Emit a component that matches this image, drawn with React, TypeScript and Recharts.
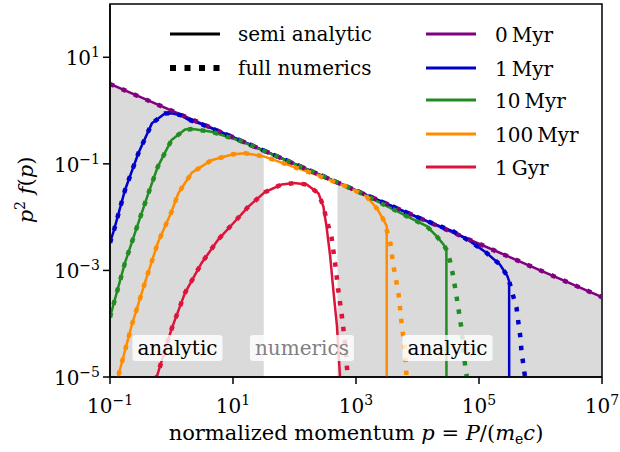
import React from 'react';
import {
  ComposedChart,
  Line,
  Area,
  XAxis,
  YAxis,
  ReferenceDot,
  ReferenceArea,
} from 'recharts';

const FONT = 'DejaVu Serif';
const FS = 20;
const SUP = 14;

// x: normalized momentum p, y: p^2 f(p)
const xTicks = [1e-1, 1e1, 1e3, 1e5, 1e7];
const yTicks = [1e-5, 1e-3, 1e-1, 1e1];

const semi0 = [[0.1, 3.16], [1e7, 3.16e-4]];

const semi1 = [
  [0.1, 3.3e-3], [0.117, 5.9e-3], [0.175, 0.032], [0.29, 0.16], [0.48, 0.575],
  [0.78, 0.885], [1.0, 0.89], [1.41, 0.82], [1.86, 0.68], [3.16, 0.55], [10, 0.316],
  [100, 0.1], [1000, 0.0316], [1.1e4, 9.5e-3], [3.8e4, 5.4e-3], [7.1e4, 3.55e-3],
  [1.32e5, 2.14e-3], [2.19e5, 1.29e-3], [2.88e5, 7.9e-4], [3.09e5, 6.3e-4], [3.1e5, 1e-6],
];
const tail1 = [
  [3.55e5, 3.5e-4], [4.07e5, 2.0e-4], [4.37e5, 1.05e-4], [4.68e5, 5.9e-5],
  [4.9e5, 3.1e-5], [5.25e5, 1.74e-5], [5.6e5, 1e-5], [6.3e5, 3e-6],
];

const semi10 = [
  [0.1, 1.32e-4], [0.175, 1.38e-3], [0.29, 7.9e-3], [0.42, 0.028], [0.6, 0.089],
  [1.0, 0.28], [1.66, 0.44], [2.24, 0.45], [4.47, 0.4], [12.6, 0.275], [100, 0.1],
  [1000, 0.0316], [5250, 0.012], [1.1e4, 7.8e-3], [1.41e4, 6.8e-3], [2.04e4, 4.4e-3],
  [2.63e4, 3.1e-3], [2.95e4, 2.45e-3], [2.96e4, 1e-6],
];
const tail10 = [
  [3.39e4, 1.48e-3], [3.8e4, 7.9e-4], [4.47e4, 2.5e-4], [5.25e4, 7.4e-5],
  [5.75e4, 2.2e-5], [6.3e4, 1.05e-5], [7.1e4, 3.2e-6],
];

const semi100 = [
  [0.126, 6.3e-6], [0.135, 1e-5], [0.224, 9.1e-5], [0.37, 5.9e-4], [0.6, 3.3e-3],
  [1.0, 0.0126], [1.29, 0.028], [2.14, 0.068], [4.47, 0.117], [10, 0.151], [15.8, 0.158],
  [31.6, 0.138], [70.8, 0.1], [229, 0.062], [794, 0.0355], [1480, 0.0245], [2190, 0.0145],
  [2750, 9.3e-3], [3160, 6.8e-3], [3165, 1e-6],
];
const tail100 = [
  [3550, 3.8e-3], [4070, 1.2e-3], [4900, 3.8e-4], [5500, 1.05e-4],
  [6300, 2.9e-5], [6600, 1.1e-5], [7240, 3.2e-6],
];

const semi1G = [
  [0.55, 5e-6], [0.575, 1e-5], [1.0, 7.9e-5], [1.66, 3.8e-4], [3.09, 1.38e-3],
  [5.75, 3.8e-3], [10, 7.6e-3], [17.8, 0.0158], [33.1, 0.0295], [61.7, 0.041],
  [100, 0.0437], [158, 0.041], [245, 0.028], [295, 0.0158], [331, 6.8e-3],
  [380, 1.86e-3], [427, 4.4e-4], [490, 9.1e-5], [550, 1e-5], [575, 4e-6],
];
const tail1G = [
  [331, 9e-3], [398, 4.4e-3], [457, 1.38e-3], [513, 4.4e-4], [589, 1.4e-4],
  [661, 4.5e-5], [724, 1.2e-5], [794, 4e-6],
];

// grey shading under the initial spectrum
const shadeLow = [[0.1, 3.16], [31.6, 0.178]];
const shadeHigh = [[500, 0.0447], [1e7, 3.16e-4]];

const regionLabels = [
  { text: 'analytic', p: 1.25, y: 3.5e-5, grey: false },
  { text: 'numerics', p: 132, y: 3.5e-5, grey: true },
  { text: 'analytic', p: 3.08e4, y: 3.5e-5, grey: false },
];

const pts = (a: number[][]) => a.map(([p, y]) => ({ p, y }));
const upTo = (a: number[][], p: number) => a.filter((d) => d[0] <= p);

const series = [
  { name: '0\u2009Myr', color: '#800080', semi: semi0, num: semi0 },
  { name: '1\u2009Myr', color: '#0000cd', semi: semi1, num: [...upTo(semi1, 3.09e5), ...tail1] },
  { name: '10\u2009Myr', color: '#228b22', semi: semi10, num: [...upTo(semi10, 2.95e4), ...tail10] },
  { name: '100\u2009Myr', color: '#ff8c00', semi: semi100, num: [...upTo(semi100, 2750), ...tail100] },
  { name: '1\u2009Gyr', color: '#dc143c', semi: semi1G, num: [...upTo(semi1G, 295), ...tail1G] },
];

const supText = (e: number) => (e < 0 ? '\u2212' + -e : String(e));

const XTick = (props: any) => {
  const { x, y, payload } = props;
  const e = Math.round(Math.log10(payload.value));
  return (
    <text x={x} y={y + 27} textAnchor="middle" fontFamily={FONT} fontSize={FS} fill="#000">
      10<tspan dy={-8} fontSize={SUP}>{supText(e)}</tspan>
    </text>
  );
};

const YTick = (props: any) => {
  const { x, y, payload } = props;
  const e = Math.round(Math.log10(payload.value));
  return (
    <text x={x - 1} y={y + 8} textAnchor="end" fontFamily={FONT} fontSize={FS} fill="#000">
      10<tspan dy={-8} fontSize={SUP}>{supText(e)}</tspan>
    </text>
  );
};

let ctx: CanvasRenderingContext2D | null = null;
const textWidth = (s: string) => {
  if (!ctx) ctx = document.createElement('canvas').getContext('2d');
  if (!ctx) return s.length * 11;
  ctx.font = `${FS}px "${FONT}"`;
  return ctx.measureText(s).width;
};

const RegionLabel = (props: any) => {
  const { cx, cy, text, grey } = props;
  const w = textWidth(text) + 10;
  const h = 26;
  return (
    <g>
      <rect x={cx - w / 2} y={cy - h / 2} width={w} height={h} rx={3} fill="#fff" fillOpacity={0.8} />
      <text x={cx} y={cy + 7} textAnchor="middle" fontFamily={FONT} fontSize={FS} fill={grey ? '#808080' : '#000'}>
        {text}
      </text>
    </g>
  );
};

const axisStyle = { stroke: '#000', strokeWidth: 1.5 };

export default function App() {
  return (
    <div style={{ position: 'absolute', left: 0, top: 0, width: 620, height: 452, background: '#fff' }}>
      <ComposedChart width={620} height={452} margin={{ top: 4, right: 18, bottom: 0, left: 0 }}>
        <XAxis
          type="number"
          dataKey="p"
          scale="log"
          domain={[0.1, 1e7]}
          allowDataOverflow
          ticks={xTicks}
          interval={0}
          height={75}
          tickSize={7}
          axisLine={axisStyle}
          tickLine={axisStyle}
          tick={<XTick />}
        />
        <YAxis
          type="number"
          dataKey="y"
          scale="log"
          domain={[1e-5, 1e2]}
          allowDataOverflow
          ticks={yTicks}
          interval={0}
          width={110}
          tickSize={7}
          axisLine={axisStyle}
          tickLine={axisStyle}
          tick={<YTick />}
        />
        <Area data={pts(shadeLow)} dataKey="y" type="linear" baseValue={1e-5} stroke="none" fill="#dadada" fillOpacity={1} isAnimationActive={false} />
        <Area data={pts(shadeHigh)} dataKey="y" type="linear" baseValue={1e-5} stroke="none" fill="#dadada" fillOpacity={1} isAnimationActive={false} />
        {series.map((s) => (
          <Line key={'s' + s.name} data={pts(s.semi)} dataKey="y" type="linear" stroke={s.color} strokeWidth={2.5} dot={false} activeDot={false} isAnimationActive={false} />
        ))}
        {series.map((s) => (
          <Line key={'n' + s.name} data={pts(s.num)} dataKey="y" type="linear" stroke={s.color} strokeWidth={4.5} strokeDasharray="4.5 8.5" dot={false} activeDot={false} isAnimationActive={false} />
        ))}
        {regionLabels.map((l, i) => (
          <ReferenceDot key={i} x={l.p} y={l.y} r={0} shape={(props: any) => <RegionLabel {...props} text={l.text} grey={l.grey} />} />
        ))}
        <ReferenceArea x1={0.1} x2={1e7} y1={1e-5} y2={1e2} fill="none" stroke="#000" strokeWidth={1.5} />
      </ComposedChart>
      <svg width={620} height={452} style={{ position: 'absolute', left: 0, top: 0, pointerEvents: 'none' }} fontFamily={FONT} fontSize={FS}>
        <line x1={170} x2={220} y1={34} y2={34} stroke="#000" strokeWidth={3} />
        <text x={238} y={41}>semi analytic</text>
        <line x1={170} x2={220} y1={68} y2={68} stroke="#000" strokeWidth={6} strokeDasharray="6 8.5" />
        <text x={238} y={75}>full numerics</text>
        {series.map((s, i) => {
          const ly = [34, 68, 100, 134, 167][i];
          return (
            <g key={s.name}>
              <line x1={426} x2={476} y1={ly} y2={ly} stroke={s.color} strokeWidth={3} />
              <text x={495} y={ly + 8}>{s.name}</text>
            </g>
          );
        })}
        <text x={356} y={440} textAnchor="middle" fontSize={21}>
          normalized momentum <tspan fontStyle="italic">p</tspan> = <tspan fontStyle="italic">P</tspan>/(<tspan fontStyle="italic">m</tspan>
          <tspan dy={4} fontSize={SUP}>e</tspan>
          <tspan dy={-4} fontStyle="italic">c</tspan>)
        </text>
        <text transform="translate(33,190) rotate(-90)" textAnchor="middle" fontSize={21}>
          <tspan fontStyle="italic">p</tspan>
          <tspan dy={-8} fontSize={SUP}>2</tspan>
          <tspan dy={8}> </tspan>
          <tspan fontStyle="italic">f</tspan>(<tspan fontStyle="italic">p</tspan>)
        </text>
      </svg>
    </div>
  );
}
